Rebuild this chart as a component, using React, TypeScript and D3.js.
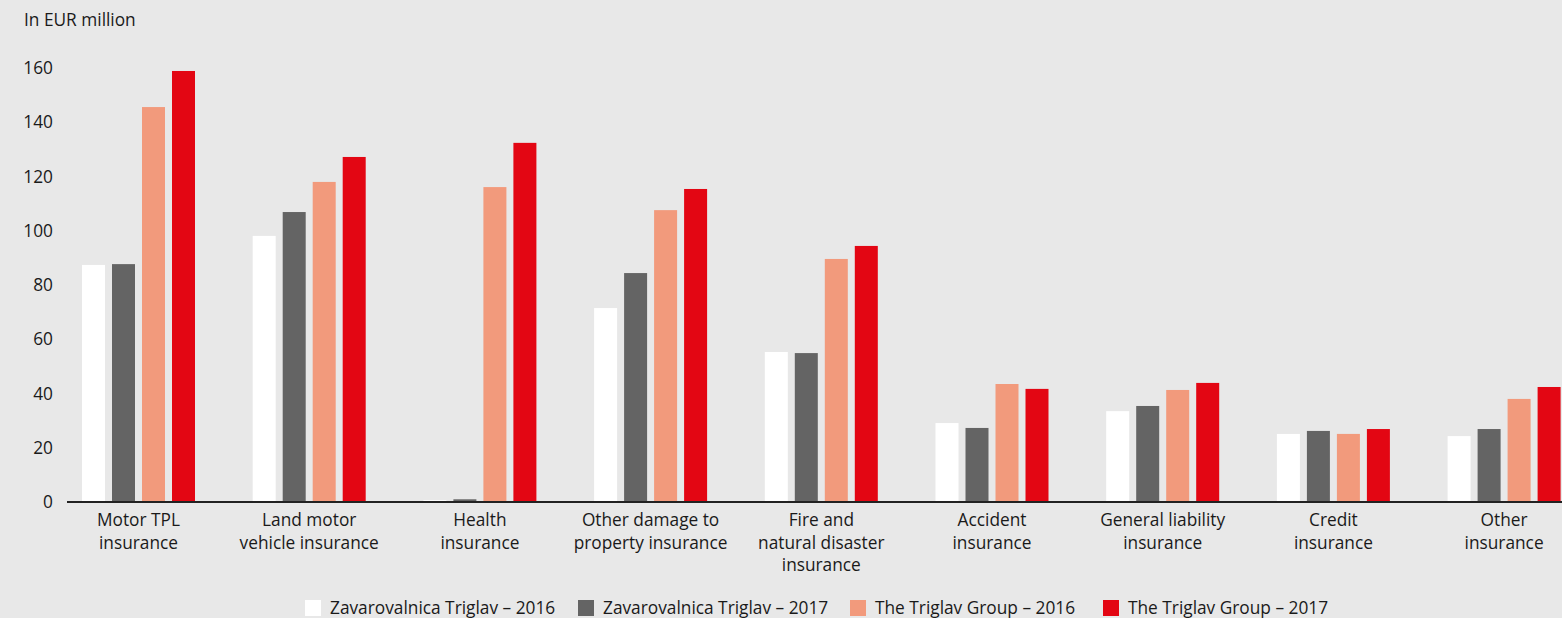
import React from "react";
import * as d3 from "d3";

const categories: string[][] = [
  ["Motor TPL", "insurance"],
  ["Land motor", "vehicle insurance"],
  ["Health", "insurance"],
  ["Other damage to", "property insurance"],
  ["Fire and", "natural disaster", "insurance"],
  ["Accident", "insurance"],
  ["General liability", "insurance"],
  ["Credit", "insurance"],
  ["Other", "insurance"],
];

const seriesNames = [
  "Zavarovalnica Triglav – 2016",
  "Zavarovalnica Triglav – 2017",
  "The Triglav Group – 2016",
  "The Triglav Group – 2017",
];

const zt2016 = [87.4, 98.1, 0.7, 71.5, 55.3, 29.1, 33.5, 25.1, 24.3];
const zt2017 = [87.7, 106.9, 1.0, 84.4, 54.9, 27.3, 35.4, 26.2, 26.9];
const tg2016 = [145.6, 118.0, 116.1, 107.6, 89.6, 43.5, 41.3, 25.1, 38.0];
const tg2017 = [158.9, 127.2, 132.4, 115.4, 94.4, 41.7, 43.9, 26.9, 42.4];

const yTicks = [0, 20, 40, 60, 80, 100, 120, 140, 160];
const colors = ["#ffffff", "#646464", "#f29a7c", "#e30613"];

const W = 1562;
const H = 618;
const FONT = "'Open Sans', sans-serif";
const FS = 17.3;

export default function App() {
  const series = [zt2016, zt2017, tg2016, tg2017];
  const catKeys = categories.map((c) => c.join(" "));
  const x0 = d3.scaleBand<string>().domain(catKeys).range([67, 67 + 9 * 170.7]).padding(0);
  const x1 = d3
    .scaleBand<number>()
    .domain([0, 1, 2, 3])
    .range([15, 128])
    .paddingInner(7 / 30)
    .paddingOuter(0);
  const y = d3.scaleLinear().domain([0, 160]).range([502, 68]);

  const legendX = [305, 578, 850, 1103];

  return (
    <svg
      width={W}
      height={H}
      style={{ position: "absolute", left: 0, top: 0, background: "#e8e8e8" }}
      fontFamily={FONT}
    >
      <rect x={0} y={0} width={W} height={H} fill="#e8e8e8" />
      <text x={24} y={26} fontSize={FS} fill="#1a1a1a">
        In EUR million
      </text>
      {yTicks.map((t) => (
        <text
          key={t}
          x={53}
          y={y(t)}
          dy="0.35em"
          textAnchor="end"
          fontSize={FS}
          fill="#1a1a1a"
        >
          {t}
        </text>
      ))}
      {catKeys.map((k, ci) =>
        series.map((s, si) => {
          const bx = (x0(k) ?? 0) + (x1(si) ?? 0);
          return (
            <rect
              key={k + si}
              x={bx}
              y={y(s[ci])}
              width={x1.bandwidth()}
              height={502 - y(s[ci])}
              fill={colors[si]}
            />
          );
        })
      )}
      <line x1={67} x2={W} y1={502} y2={502} stroke="#222" strokeWidth={2} />
      {catKeys.map((k, ci) => {
        const cx = (x0(k) ?? 0) + 15 + 113 / 2;
        return (
          <text key={k} textAnchor="middle" fontSize={FS} fill="#1a1a1a">
            {categories[ci].map((line, li) => (
              <tspan key={li} x={cx} y={526 + li * 22.5}>
                {line}
              </tspan>
            ))}
          </text>
        );
      })}
      {seriesNames.map((n, i) => (
        <g key={n}>
          <rect x={legendX[i]} y={600} width={16} height={16} fill={colors[i]} />
          <text x={legendX[i] + 25} y={614} fontSize={FS} fill="#1a1a1a">
            {n}
          </text>
        </g>
      ))}
    </svg>
  );
}
